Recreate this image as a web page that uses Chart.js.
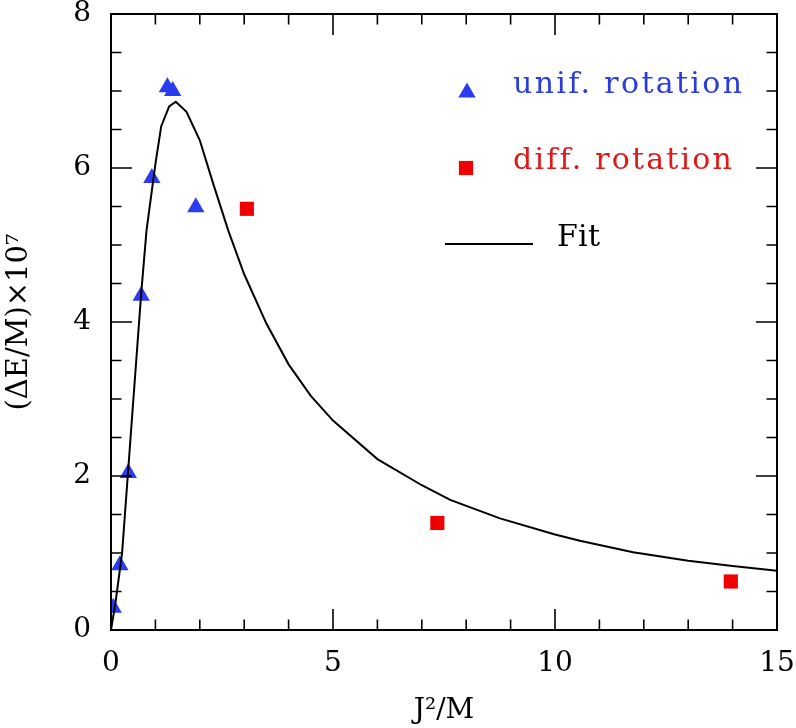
<!DOCTYPE html>
<html>
<head>
<meta charset="utf-8">
<script src="https://cdn.jsdelivr.net/npm/chart.js@4"></script>
<style>
  html, body { margin: 0; padding: 0; background: #fff; }
</style>
</head>
<body>
<canvas id="chart" width="796" height="728"></canvas>
<script>
// binding energy vs J^2/M

const unifX = [0.05, 0.2, 0.39, 0.68, 0.92, 1.27, 1.39, 1.91];
const unifY = [0.29, 0.84, 2.04, 4.34, 5.87, 7.05, 7.00, 5.49];

const diffX = [3.06, 7.35, 13.96];
const diffY = [5.47, 1.39, 0.63];

// fit curve
const fitX = [0, 0.1, 0.25, 0.47, 0.68, 0.8, 1.0, 1.13, 1.31, 1.46, 1.7, 2.0, 2.3, 2.64, 3.0, 3.5, 4.0, 4.5, 5.0, 6.0, 7.0, 7.64, 8.76, 10.0, 10.56, 11.76, 13.0, 14.0, 15.0];
const fitY = [0, 0.35, 1.0, 2.73, 4.37, 5.19, 6.05, 6.54, 6.80, 6.86, 6.73, 6.36, 5.80, 5.19, 4.62, 3.98, 3.45, 3.04, 2.72, 2.22, 1.88, 1.69, 1.45, 1.24, 1.16, 1.01, 0.90, 0.83, 0.77];

const xTicks = [0, 5, 10, 15];
const yTicks = [0, 2, 4, 6, 8];

const BLUE = '#2a3cf0';
const RED = '#f20000';
const FONT = '"DejaVu Serif", serif';

function toPoints(xs, ys) {
    return xs.map((x, i) => ({ x: x, y: ys[i] }));
}

// frame, inward ticks on all sides, legend
const framePlugin = {
    id: 'frame',
    afterDraw(chart) {
        const ctx = chart.ctx;
        const xs = chart.scales.x;
        const ys = chart.scales.y;
        const a = chart.chartArea;
        ctx.save();
        ctx.strokeStyle = '#000';
        ctx.lineWidth = 2;
        ctx.strokeRect(a.left, a.top, a.right - a.left, a.bottom - a.top);

        ctx.lineWidth = 1.6;
        ctx.beginPath();
        for (let v = 0; v <= 15; v += 1) {
            const px = xs.getPixelForValue(v);
            const len = v % 5 === 0 ? 21 : 10.5;
            ctx.moveTo(px, a.bottom); ctx.lineTo(px, a.bottom - len);
            ctx.moveTo(px, a.top); ctx.lineTo(px, a.top + len);
        }
        for (let v = 0; v <= 8; v += 0.5) {
            const py = ys.getPixelForValue(v);
            const len = v % 2 === 0 ? 21 : 10.5;
            ctx.moveTo(a.left, py); ctx.lineTo(a.left + len, py);
            ctx.moveTo(a.right, py); ctx.lineTo(a.right - len, py);
        }
        ctx.stroke();

        // legend
        const drawText = (txt, x, y, color, target) => {
            ctx.font = '30px ' + FONT;
            ctx.letterSpacing = '0px';
            const w = ctx.measureText(txt).width;
            const ls = Math.max(0, (target - w) / (txt.length - 1));
            ctx.letterSpacing = ls.toFixed(2) + 'px';
            ctx.fillStyle = color;
            ctx.textBaseline = 'alphabetic';
            ctx.textAlign = 'left';
            ctx.fillText(txt, x, y);
        };
        ctx.fillStyle = BLUE;
        Chart.helpers.drawPoint(ctx, { pointStyle: 'triangle', radius: 10, rotation: 0, borderWidth: 0 }, 467, 92.5);
        drawText('unif. rotation', 513, 93, '#2a3cdc', 229);

        ctx.fillStyle = RED;
        Chart.helpers.drawPoint(ctx, { pointStyle: 'rect', radius: 10, rotation: 0, borderWidth: 0 }, 466, 168);
        drawText('diff. rotation', 513, 169, '#dc1a1a', 218);

        ctx.strokeStyle = '#000';
        ctx.lineWidth = 2;
        ctx.beginPath();
        ctx.moveTo(445, 244); ctx.lineTo(533, 244);
        ctx.stroke();
        drawText('Fit', 557, 246, '#000', 43);
        ctx.restore();
    }
};

const ctx = document.getElementById('chart').getContext('2d');

new Chart(ctx, {
    type: 'scatter',
    data: {
        datasets: [
            {
                label: 'Fit',
                data: toPoints(fitX, fitY),
                showLine: true,
                borderColor: '#000',
                borderWidth: 2,
                pointRadius: 0,
                tension: 0,
                fill: false
            },
            {
                label: 'unif. rotation',
                data: toPoints(unifX, unifY),
                pointStyle: 'triangle',
                pointRadius: 10,
                backgroundColor: BLUE,
                borderWidth: 0
            },
            {
                label: 'diff. rotation',
                data: toPoints(diffX, diffY),
                pointStyle: 'rect',
                pointRadius: 10,
                backgroundColor: RED,
                borderWidth: 0
            }
        ]
    },
    options: {
        responsive: false,
        animation: false,
        layout: { padding: { top: 14, right: 19, left: 0, bottom: 0 } },
        plugins: {
            legend: { display: false },
            tooltip: { enabled: false }
        },
        scales: {
            x: {
                type: 'linear',
                min: 0,
                max: 15,
                afterFit(scale) {
                    scale.height = 98;
                    scale.paddingLeft = 0;
                    scale.paddingRight = 0;
                },
                afterBuildTicks(scale) { scale.ticks = xTicks.map(v => ({ value: v })); },
                grid: { display: false, drawTicks: false },
                border: { display: false },
                ticks: {
                    padding: 17,
                    maxRotation: 0,
                    color: '#000',
                    font: { family: FONT, size: 28 }
                },
                title: {
                    display: true,
                    text: 'J²/M',
                    color: '#000',
                    font: { family: FONT, size: 28 },
                    padding: { top: 0, bottom: 0 }
                }
            },
            y: {
                type: 'linear',
                min: 0,
                max: 8,
                afterFit(scale) {
                    scale.width = 111;
                    scale.paddingTop = 0;
                    scale.paddingBottom = 0;
                },
                afterBuildTicks(scale) { scale.ticks = yTicks.map(v => ({ value: v })); },
                grid: { display: false, drawTicks: false },
                border: { display: false },
                ticks: {
                    padding: 20,
                    color: '#000',
                    font: { family: FONT, size: 28 }
                },
                title: {
                    display: true,
                    text: '(ΔE/M)×10⁷',
                    color: '#000',
                    font: { family: FONT, size: 29 },
                    padding: { top: 2, bottom: 2 }
                }
            }
        }
    },
    plugins: [framePlugin]
});
</script>
</body>
</html>
